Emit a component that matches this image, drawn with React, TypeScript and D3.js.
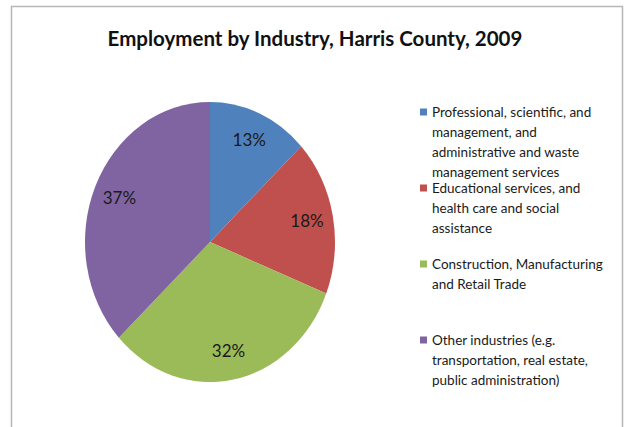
import React from 'react';
import * as d3 from 'd3';

const categories = [
  'Professional, scientific, and management, and administrative and waste management services',
  'Educational services, and health care and social assistance',
  'Construction, Manufacturing and Retail Trade',
  'Other industries (e.g. transportation, real estate, public administration)',
];
const shares = [13, 18, 32, 37];
const colors = ['#4f81bd', '#c0504d', '#9bbb59', '#8064a2'];
const legendLines = [
  ['Professional, scientific, and', 'management, and', 'administrative and waste', 'management services'],
  ['Educational services, and', 'health care and social', 'assistance'],
  ['Construction, Manufacturing', 'and Retail Trade'],
  ['Other industries (e.g.', 'transportation, real estate,', 'public administration)'],
];
const title = 'Employment by Industry, Harris County, 2009';

interface Slice {
  name: string;
  value: number;
  color: string;
  lines: string[];
}

const slices: Slice[] = categories.map((name, i) => ({
  name,
  value: shares[i],
  color: colors[i],
  lines: legendLines[i],
}));

const W = 629;
const H = 427;
const FONT = 'Lato, "Open Sans", sans-serif';

export default function App() {
  const cx = 210;
  const cy = 242;
  const radius = 125;
  const squash = 140 / 125; // the pie is drawn slightly taller than wide

  const pie = d3
    .pie<Slice>()
    .value((d) => d.value)
    .sort(null);
  const arcs = pie(slices);

  const arc = d3.arc<d3.PieArcDatum<Slice>>().innerRadius(0).outerRadius(radius);
  const labelArc = d3
    .arc<d3.PieArcDatum<Slice>>()
    .innerRadius(radius * 0.79)
    .outerRadius(radius * 0.79);

  const total = d3.sum(slices, (d) => d.value);

  // legend entries spread down the right side
  const legendY = d3
    .scalePoint<string>()
    .domain(categories)
    .range([112, 340]);
  const lineH = 20;

  return (
    <div style={{ position: 'absolute', left: 0, top: 0 }}>
      <svg width={W} height={H} style={{ display: 'block', background: '#fff' }}>
        <rect x={11.5} y={6.5} width={611} height={440} fill="#fff" stroke="#b8b6b4" strokeWidth={1.5} />

        <text
          x={315}
          y={46}
          textAnchor="middle"
          fontFamily={FONT}
          fontWeight={700}
          fontSize={20.5}
          fill="#111"
        >
          {title}
        </text>

        <g transform={`translate(${cx},${cy}) scale(1,${squash})`}>
          {arcs.map((d) => (
            <path key={d.data.name} d={arc(d) || ''} fill={d.data.color} />
          ))}
        </g>

        {arcs.map((d) => {
          const [x, y] = labelArc.centroid(d);
          return (
            <text
              key={'l' + d.data.name}
              x={cx + x}
              y={cy + y * squash}
              dy="0.35em"
              textAnchor="middle"
              fontFamily={FONT}
              fontSize={17}
              fill="#1a1a1a"
            >
              {`${Math.round((d.value / total) * 100)}%`}
            </text>
          );
        })}

        {slices.map((s) => {
          const y0 = legendY(s.name) || 0;
          return (
            <g key={'g' + s.name}>
              <rect x={420} y={y0 - 3.5} width={7} height={7} fill={s.color} />
              {s.lines.map((line, j) => (
                <text
                  key={j}
                  x={432}
                  y={y0 + j * lineH}
                  dy="0.35em"
                  fontFamily={FONT}
                  fontSize={13.5}
                  fill="#1a1a1a"
                >
                  {line}
                </text>
              ))}
            </g>
          );
        })}
      </svg>
    </div>
  );
}
